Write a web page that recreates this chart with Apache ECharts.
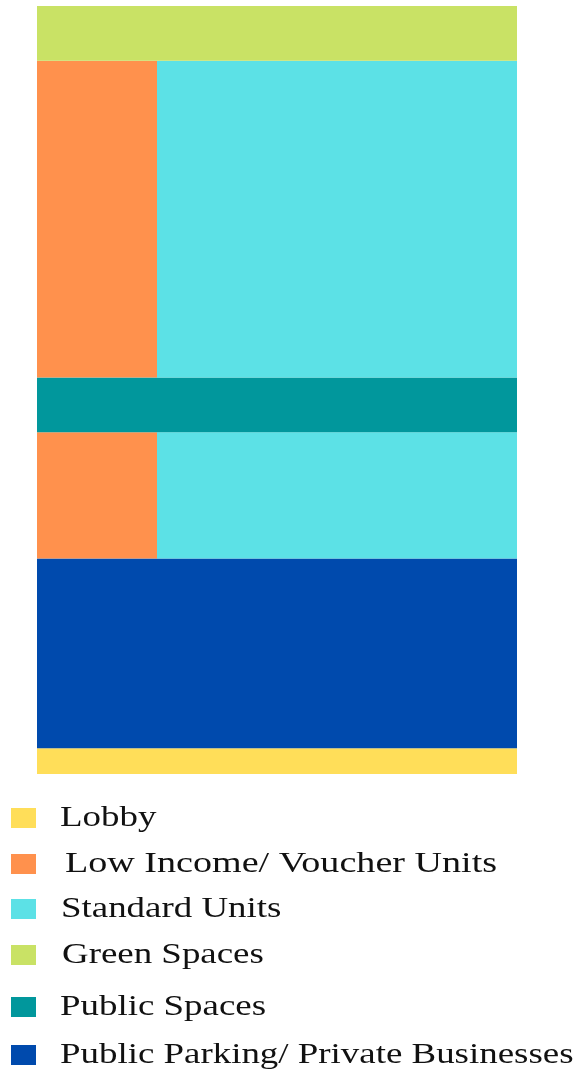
<!DOCTYPE html>
<html>
<head>
<meta charset="utf-8">
<script src="https://cdn.jsdelivr.net/npm/echarts@6/dist/echarts.min.js"></script>
<style>html,body{margin:0;padding:0;background:#fff}#c{width:587px;height:1071px}</style>
</head>
<body>
<div id="c"></div>
<script>
// Columns across the building width (left quarter = low income units)
const columns = ['A', 'B', 'C', 'D'];
// Legend / category names
const legendNames = ['Lobby', 'Low Income/ Voucher Units', 'Standard Units', 'Green Spaces', 'Public Spaces', 'Public Parking/ Private Businesses'];
// Stacked block heights (bottom to top), per column
const lobby = [0.47, 0.47, 0.47, 0.47];
const parking = [3.46, 3.46, 3.46, 3.46];
const lowIncomeLower = [2.3, 0, 0, 0];
const standardLower = [0, 2.3, 2.3, 2.3];
const publicSpaces = [1, 1, 1, 1];
const lowIncomeUpper = [5.77, 0, 0, 0];
const standardUpper = [0, 5.77, 5.77, 5.77];
const greenSpaces = [1, 1, 1, 1];

const colors = {
  'Lobby': '#FFDE59',
  'Low Income/ Voucher Units': '#FF914D',
  'Standard Units': '#5CE1E6',
  'Green Spaces': '#C9E265',
  'Public Spaces': '#01979C',
  'Public Parking/ Private Businesses': '#004AAD'
};

function bar(name, data) {
  return {
    type: 'bar', name: name, stack: 'b', data: data,
    barCategoryGap: '0%', barGap: '0%',
    itemStyle: { color: colors[name] },
    emphasis: { disabled: true },
    silent: true
  };
}

const series = [
  bar('Lobby', lobby),
  bar('Public Parking/ Private Businesses', parking),
  bar('Low Income/ Voucher Units', lowIncomeLower),
  bar('Standard Units', standardLower),
  bar('Public Spaces', publicSpaces),
  bar('Low Income/ Voucher Units', lowIncomeUpper),
  bar('Standard Units', standardUpper),
  bar('Green Spaces', greenSpaces)
];

// Legend rows (drawn as graphic groups, horizontally stretched like the reference)
const legendY = [818, 864, 909, 955, 1007, 1055];
const legendTextX = [60, 65, 61, 62, 60, 60];
const legendScaleX = [1.23, 1.27, 1.23, 1.23, 1.23, 1.23];
const graphic = legendNames.map((n, i) => ({
  type: 'group', x: 11, y: legendY[i], scaleX: legendScaleX[i], silent: true,
  children: [
    { type: 'rect', shape: { x: 0, y: -10, width: 25 / legendScaleX[i], height: 20 }, style: { fill: colors[n] } },
    { type: 'text', x: (legendTextX[i] - 11) / legendScaleX[i], y: 0,
      style: { text: n, fill: '#111', font: '30px "Liberation Serif", "Times New Roman", serif', verticalAlign: 'middle', align: 'left' } }
  ]
}));

const chart = echarts.init(document.getElementById('c'), null, { renderer: 'canvas' });
chart.setOption({
  animation: false,
  backgroundColor: '#fff',
  grid: { left: 37, right: 70, top: 6, bottom: 297, containLabel: false },
  xAxis: { type: 'category', data: columns, show: false },
  yAxis: { type: 'value', min: 0, max: 14, show: false },
  series: series,
  graphic: graphic
});
</script>
</body>
</html>
